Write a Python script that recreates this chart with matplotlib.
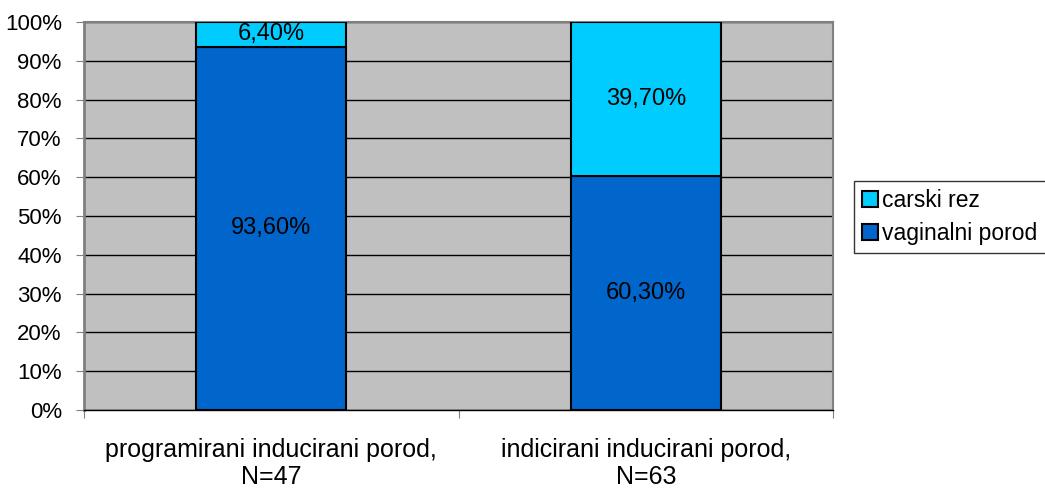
import matplotlib.pyplot as plt
import numpy as np
from matplotlib.patches import Patch

plt.rcParams['font.family'] = ['Liberation Sans', 'DejaVu Sans']

kategorije = ['programirani inducirani porod,\nN=47', 'indicirani inducirani porod,\nN=63']
vaginalni = [93.6, 60.3]
carski = [6.4, 39.7]
oznake_vag = ['93,60%', '60,30%']
oznake_car = ['6,40%', '39,70%']

fig = plt.figure(figsize=(10.45, 4.92), dpi=100)
ax = fig.add_axes([0.0804, 0.1667, 0.717, 0.7886])
ax.set_facecolor('#C0C0C0')

x = np.arange(len(kategorije))
b1 = ax.bar(x, vaginalni, width=0.4, color='#0066CC', edgecolor='black', linewidth=1.5, zorder=3)
b2 = ax.bar(x, carski, width=0.4, bottom=vaginalni, color='#00CCFF', edgecolor='black', linewidth=1.5, zorder=3)

for i in range(len(x)):
    ax.text(x[i], vaginalni[i] / 2, oznake_vag[i], ha='center', va='center', fontsize=17, zorder=4)
    ax.text(x[i], vaginalni[i] + carski[i] / 2, oznake_car[i], ha='center', va='center', fontsize=17, zorder=4)

ax.set_xlim(-0.5, 1.5)
ax.set_ylim(0, 100)
ax.set_yticks(np.arange(0, 101, 10))
ax.set_yticklabels([str(v) + '%' for v in range(0, 101, 10)], fontsize=16)
ax.yaxis.grid(True, color='black', linewidth=1, zorder=1)

ax.set_xticks([-0.5, 0.5, 1.5])
ax.set_xticklabels([])
ax.set_xticks(x, minor=True)
ax.set_xticklabels(kategorije, minor=True, fontsize=18, linespacing=1.15)
ax.tick_params(axis='x', which='minor', length=0, pad=20)
ax.tick_params(axis='x', which='major', length=6, direction='out', color='#808080')
ax.tick_params(axis='y', length=6, color='#808080', pad=10)

for s in ['top', 'right']:
    ax.spines[s].set_color('#808080')
    ax.spines[s].set_linewidth(1.5)
ax.spines['left'].set_color('#808080')
ax.spines['left'].set_linewidth(2)
ax.spines['bottom'].set_color('black')
ax.spines['bottom'].set_linewidth(1)

handles = [Patch(facecolor='#00CCFF', edgecolor='black', linewidth=1.5, label='carski rez'),
           Patch(facecolor='#0066CC', edgecolor='black', linewidth=1.5, label='vaginalni porod')]
leg = fig.legend(handles=handles, loc='upper left', bbox_to_anchor=(0.817, 0.632), fontsize=16.5,
                 frameon=True, fancybox=False, edgecolor='black', handlelength=0.7, handleheight=0.7,
                 handletextpad=0.2, borderpad=0.35, labelspacing=0.45, borderaxespad=0)
leg.get_frame().set_linewidth(1)

fig.savefig('out.png', dpi=100)
